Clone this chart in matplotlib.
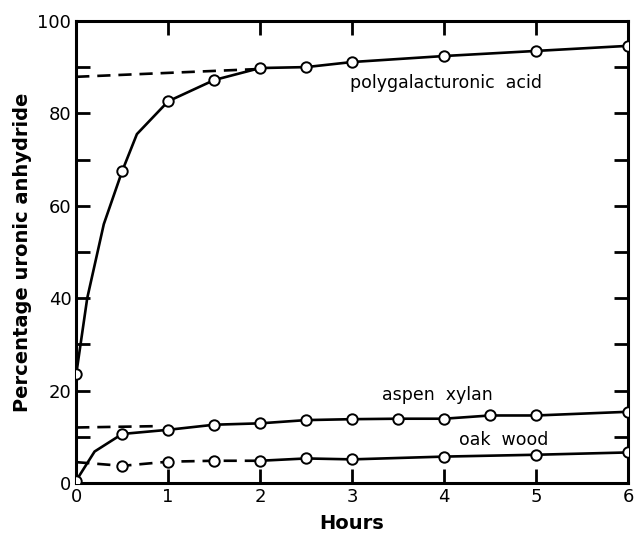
import matplotlib.pyplot as plt
from matplotlib.ticker import MultipleLocator

poly_x = [0, 0.5, 1, 1.5, 2, 2.5, 3, 4, 5, 6]
poly_y = [23.5, 67.5, 82.6, 87.2, 89.8, 90.0, 91.1, 92.4, 93.5, 94.6]
poly_curve_x = [0, 0.12, 0.3, 0.5, 0.66, 1, 1.5, 2, 2.5, 3, 4, 5, 6]
poly_curve_y = [23.5, 40, 56, 67.5, 75.5, 82.6, 87.2, 89.8, 90.0, 91.1, 92.4, 93.5, 94.6]
poly_dash_x = [0, 2]
poly_dash_y = [87.9, 89.6]

# aspen xylan
aspen_x = [0, 0.5, 1, 1.5, 2, 2.5, 3, 3.5, 4, 4.5, 5, 6]
aspen_y = [0.5, 10.6, 11.5, 12.6, 12.9, 13.6, 13.8, 13.9, 13.9, 14.6, 14.6, 15.4]
aspen_curve_x = [0, 0.2, 0.5, 1, 1.5, 2, 2.5, 3, 3.5, 4, 4.5, 5, 6]
aspen_curve_y = [0.5, 6.8, 10.6, 11.5, 12.6, 12.9, 13.6, 13.8, 13.9, 13.9, 14.6, 14.6, 15.4]
aspen_dash_x = [0, 0.9]
aspen_dash_y = [12.0, 12.3]

# oak wood
oak_x = [0.5, 1, 1.5, 2, 2.5, 3, 4, 5, 6]
oak_y = [3.7, 4.6, 4.8, 4.8, 5.3, 5.1, 5.7, 6.1, 6.6]
oak_dash_x = [0, 0.5, 1, 1.5, 2]
oak_dash_y = [4.5, 3.7, 4.6, 4.8, 4.8]

fig = plt.figure(figsize=(6.35, 5.36), dpi=100)
ax = fig.add_axes([0.12, 0.099, 0.869, 0.862])

lw = 1.9
mk = dict(marker='o', ms=7.5, mfc='white', mec='black', mew=1.4, ls='none', zorder=5)

ax.plot(poly_curve_x, poly_curve_y, color='black', lw=lw)
ax.plot(poly_dash_x, poly_dash_y, color='black', lw=lw, ls=(0, (5, 3)))
ax.plot(poly_x, poly_y, **mk)

ax.plot(aspen_curve_x, aspen_curve_y, color='black', lw=lw)
ax.plot(aspen_dash_x, aspen_dash_y, color='black', lw=lw, ls=(0, (5, 3)))
ax.plot(aspen_x, aspen_y, **mk)

ax.plot(oak_dash_x, oak_dash_y, color='black', lw=lw, ls=(0, (5, 3)))
ax.plot(oak_x[3:], oak_y[3:], color='black', lw=lw)
ax.plot(oak_x, oak_y, **mk)

ax.text(4.02, 86.6, 'polygalacturonic  acid', ha='center', va='center', fontsize=12.5)
ax.text(3.93, 19.0, 'aspen  xylan', ha='center', va='center', fontsize=12.5)
ax.text(4.65, 9.3, 'oak  wood', ha='center', va='center', fontsize=12.5)

ax.set_xlim(0, 6)
ax.set_ylim(0, 100)
ax.xaxis.set_major_locator(MultipleLocator(1))
ax.yaxis.set_major_locator(MultipleLocator(20))
ax.yaxis.set_minor_locator(MultipleLocator(10))
ax.tick_params(which='both', direction='in', top=True, right=True, width=2, labelsize=13)
ax.tick_params(which='major', length=10)
ax.tick_params(which='minor', length=10)
for s in ax.spines.values():
    s.set_linewidth(2.2)

ax.set_xlabel('Hours', fontsize=14, fontweight='bold', labelpad=6)
ax.set_ylabel('Percentage uronic anhydride', fontsize=14, fontweight='bold', labelpad=4)

fig.savefig('out.png', dpi=100)
